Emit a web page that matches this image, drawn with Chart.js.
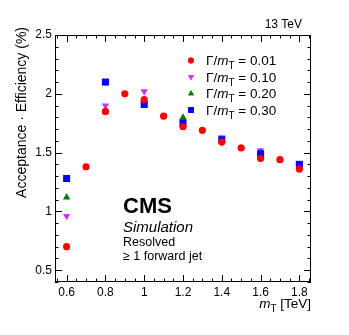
<!DOCTYPE html>
<html><head><meta charset="utf-8">
<script src="https://cdn.jsdelivr.net/npm/chart.js@4/dist/chart.umd.min.js"></script>
<style>html,body{margin:0;padding:0;background:#fff}#wrap{width:349px;height:335px}</style>
</head><body><div id="wrap"><canvas id="c" width="349" height="335"></canvas></div>
<script>
// ---- data ----
const massesFine = [0.6,0.7,0.8,0.9,1.0,1.1,1.2,1.3,1.4,1.5,1.6,1.7,1.8];
const massesCoarse = [0.6,0.8,1.0,1.2,1.4,1.6,1.8];
const eff001 = [0.70,1.38,1.85,2.00,1.95,1.81,1.72,1.69,1.59,1.54,1.45,1.44,1.36];
const eff010 = [0.96,1.90,2.02,1.77,1.63,1.52,1.39];
const eff020 = [1.12,1.85,1.93,1.80,1.61,1.50,1.37];
const eff030 = [1.28,2.10,1.91,1.75,1.61,1.49,1.40];
const widthLabels = ['0.01','0.10','0.20','0.30'];
const xTicks = [0.6,0.8,1.0,1.2,1.4,1.6,1.8];
const xTickLabels = ['0.6','0.8','1','1.2','1.4','1.6','1.8'];
const yTicks = [0.5,1.0,1.5,2.0,2.5];
const yTickLabels = ['0.5','1','1.5','2','2.5'];

const FONT = "'Liberation Sans', Arial, Helvetica, sans-serif";
Chart.defaults.font.family = FONT;
Chart.defaults.color = '#000';

const colors = ['#ff0000','#cc33ff','#007a00','#0000ff'];
const styles = [
  {pointStyle:'circle', radius:3.6, rotation:0},
  {pointStyle:'triangle', radius:4.2, rotation:180},
  {pointStyle:'triangle', radius:4.2, rotation:0},
  {pointStyle:'rect', radius:5, rotation:0}
];
const seriesX = [massesFine, massesCoarse, massesCoarse, massesCoarse];
const seriesY = [eff001, eff010, eff020, eff030];
const drawOrder = [0, 3, 2, 1]; // red on top, then blue, green, magenta

const datasets = seriesY.map((ys, i) => ({
  label: widthLabels[i],
  data: ys.map((v, j) => ({x: seriesX[i][j], y: v})),
  pointStyle: styles[i].pointStyle,
  pointRadius: styles[i].radius,
  pointRotation: styles[i].rotation,
  backgroundColor: colors[i],
  borderColor: colors[i],
  borderWidth: 0,
  showLine: false,
  order: drawOrder[i]
}));

function drawLabelT(ctx, x, y, size, prefix, suffix, align) {
  ctx.textBaseline = 'alphabetic';
  ctx.textAlign = 'left';
  const fN = size + 'px ' + FONT;
  const fI = 'italic ' + size + 'px ' + FONT;
  const fS = Math.round(size * 0.72) + 'px ' + FONT;
  ctx.font = fN; const w1 = ctx.measureText(prefix).width;
  ctx.font = fI; const w2 = ctx.measureText('m').width;
  ctx.font = fS; const w3 = ctx.measureText('T').width;
  ctx.font = fN; const w4 = ctx.measureText(suffix).width;
  let sx = align === 'right' ? x - (w1 + w2 + w3 + w4) : x;
  ctx.font = fN; ctx.fillText(prefix, sx, y); sx += w1;
  ctx.font = fI; ctx.fillText('m', sx, y); sx += w2;
  ctx.font = fS; ctx.fillText('T', sx, y + size * 0.3); sx += w3;
  ctx.font = fN; ctx.fillText(suffix, sx, y);
}

const rootPlugin = {
  id: 'rootStyle',
  beforeDatasetsDraw(chart) {
    const {ctx, chartArea: a, scales: {x, y}} = chart;
    ctx.save();
    ctx.strokeStyle = '#000';
    ctx.lineWidth = 1;
    ctx.strokeRect(a.left + 0.5, a.top + 0.5, a.right - a.left - 1, a.bottom - a.top - 1);
    ctx.beginPath();
    for (let k = 11; k <= 37; k++) {
      const v = k * 0.05;
      if (v < x.min || v > x.max) continue;
      const px = Math.round(x.getPixelForValue(v)) + 0.5;
      const major = (k % 4 === 0);
      const len = major ? 7 : 3.5;
      ctx.moveTo(px, a.bottom); ctx.lineTo(px, a.bottom - len);
      ctx.moveTo(px, a.top); ctx.lineTo(px, a.top + len);
    }
    for (let k = 4; k <= 25; k++) {
      const v = k * 0.1;
      if (v < y.min - 1e-9 || v > y.max + 1e-9) continue;
      const py = Math.round(y.getPixelForValue(v)) + 0.5;
      const major = (k % 5 === 0);
      const len = major ? 7 : 3.5;
      ctx.moveTo(a.left, py); ctx.lineTo(a.left + len, py);
      ctx.moveTo(a.right, py); ctx.lineTo(a.right - len, py);
    }
    ctx.stroke();
    ctx.restore();
  },
  afterDraw(chart) {
    const {ctx, chartArea: a} = chart;
    ctx.save();
    ctx.fillStyle = '#000';
    ctx.font = '12px ' + FONT;
    ctx.textAlign = 'right'; ctx.textBaseline = 'alphabetic';
    ctx.fillText('13 TeV', 302, 28);
    ctx.textAlign = 'left';
    ctx.font = 'bold 22px ' + FONT;
    ctx.fillText('CMS', 123, 213);
    ctx.font = 'italic 15px ' + FONT;
    ctx.fillText('Simulation', 123, 232);
    ctx.font = '12.5px ' + FONT;
    ctx.fillText('Resolved', 123, 246);
    ctx.fillText('\u2265 1 forward jet', 123, 260);
    const rows = [60.5, 77, 93.5, 110];
    rows.forEach((ry, i) => {
      ctx.fillStyle = colors[i];
      Chart.helpers.drawPoint(ctx, {pointStyle: styles[i].pointStyle, radius: styles[i].radius * 0.8, rotation: styles[i].rotation, borderWidth: 0}, 191, ry);
      ctx.fill();
      ctx.fillStyle = '#000';
      drawLabelT(ctx, 206, ry + 4.8, 13.5, '\u0393/', ' = ' + widthLabels[i], 'left');
    });
    drawLabelT(ctx, a.right, 308, 13.5, '', ' [TeV]', 'right');
    ctx.save();
    ctx.translate(26, 27);
    ctx.rotate(-Math.PI / 2);
    ctx.font = '14px ' + FONT;
    ctx.textAlign = 'right'; ctx.textBaseline = 'alphabetic';
    ctx.fillText('Acceptance \u00B7 Efficiency (%)', 0, 0);
    ctx.restore();
    ctx.restore();
  }
};

new Chart(document.getElementById('c'), {
  type: 'scatter',
  data: {datasets},
  options: {
    responsive: false,
    animation: false,
    devicePixelRatio: 1,
    layout: {padding: {top: 35, right: 38, left: 0, bottom: 0}},
    plugins: {legend: {display: false}, tooltip: {enabled: false}},
    scales: {
      x: {
        type: 'linear', min: 0.54, max: 1.86,
        grid: {display: false, drawTicks: false}, border: {display: false},
        afterBuildTicks: s => { s.ticks = xTicks.map(v => ({value: v})); },
        afterFit: s => { s.height = 53; },
        ticks: {
          autoSkip: false, maxRotation: 0, padding: 3,
          font: {size: 12}, color: '#000',
          callback: (v) => { const i = xTicks.findIndex(t => Math.abs(t - v) < 1e-6); return i >= 0 ? xTickLabels[i] : ''; }
        }
      },
      y: {
        type: 'linear', min: 0.4, max: 2.5,
        grid: {display: false, drawTicks: false}, border: {display: false},
        afterBuildTicks: s => { s.ticks = yTicks.map(v => ({value: v})); },
        afterFit: s => { s.width = 55; },
        ticks: {
          autoSkip: false, padding: 3,
          font: {size: 12}, color: '#000',
          callback: (v) => { const i = yTicks.findIndex(t => Math.abs(t - v) < 1e-6); return i >= 0 ? yTickLabels[i] : ''; }
        }
      }
    }
  },
  plugins: [rootPlugin]
});
</script>
</body></html>
